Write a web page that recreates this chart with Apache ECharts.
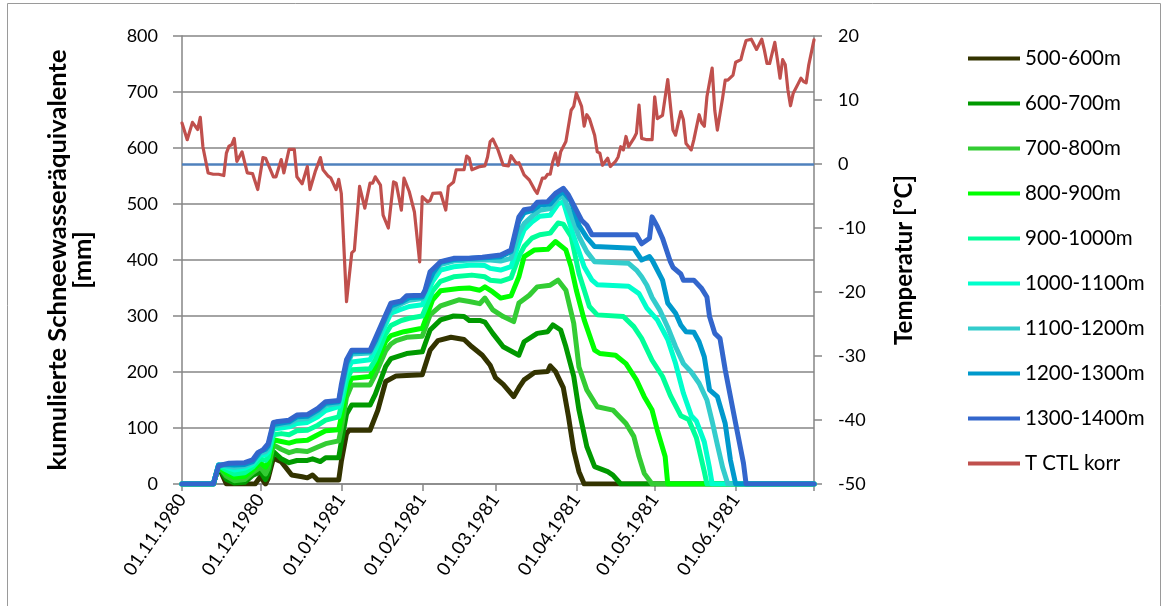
<!DOCTYPE html>
<html><head><meta charset="utf-8">
<script src="https://cdn.jsdelivr.net/npm/echarts@6/dist/echarts.min.js"></script>
<style>html,body{margin:0;padding:0;background:#fff}#c{width:1168px;height:606px}</style>
</head><body><div id="c"></div>
<script>
// ---- categories: daily dates 01.11.1980 .. 01.07.1981 ----
const categories = [];
(function(){
  const pad = n => (n < 10 ? '0' : '') + n;
  for (let i = 0; i < 243; i++) {
    const d = new Date(Date.UTC(1980, 10, 1 + i));
    categories.push(pad(d.getUTCDate()) + '.' + pad(d.getUTCMonth() + 1) + '.' + d.getUTCFullYear());
  }
})();

const seriesNames = ['500-600m','600-700m','700-800m','800-900m','900-1000m','1000-1100m','1100-1200m','1200-1300m','1300-1400m','T CTL korr'];

// [day index since 01.11.1980, value]
const snow500 = [[0,0],[12,0],[14,31],[17,0],[28,0],[30,13],[32,0],[33,10],[35,46],[38,40],[42,16],[46,13],[48,11],[50,16],[52,7],[60,7],[61,40],[63,90],[64,96],[72,96],[75,132],[78,183],[82,193],[92,195],[95,239],[98,256],[103,262],[108,258],[111,245],[115,230],[118,212],[120,190],[123,178],[127,156],[129,172],[131,186],[135,199],[140,201],[141,211],[143,201],[146,172],[148,120],[150,60],[152,22],[154,0],[242,0]];
const snow600 = [[0,0],[12,0],[14,30],[17,8],[20,2],[24,3],[27,15],[30,22],[32,8],[33,18],[35,58],[38,45],[41,38],[44,42],[48,42],[50,45],[53,40],[55,47],[60,47],[61,75],[63,125],[65,141],[72,141],[74,160],[78,210],[80,224],[86,233],[92,236],[95,275],[99,293],[104,300],[108,299],[110,292],[114,292],[116,289],[119,269],[123,245],[129,230],[131,254],[136,269],[140,272],[142,284],[145,275],[147,245],[150,192],[152,132],[155,67],[158,31],[163,22],[165,16],[168,0],[242,0]];
const snow700 = [[0,0],[12,0],[14,32],[17,14],[20,6],[24,8],[27,20],[30,30],[32,18],[33,28],[35,70],[38,62],[41,56],[44,60],[48,58],[52,66],[55,72],[60,77],[61,100],[63,155],[65,177],[72,177],[74,195],[78,238],[80,250],[82,256],[86,262],[92,264],[95,302],[99,318],[106,329],[110,326],[114,322],[116,332],[119,311],[123,299],[127,290],[129,323],[133,337],[136,352],[141,355],[144,364],[147,346],[150,287],[152,209],[155,168],[159,138],[165,132],[170,108],[173,85],[175,49],[177,19],[180,0],[242,0]];
const snow800 = [[0,0],[12,0],[14,32],[17,20],[20,12],[24,14],[27,25],[30,38],[32,30],[33,38],[35,79],[38,76],[41,73],[44,77],[48,78],[52,88],[55,95],[60,97],[61,120],[63,170],[65,189],[72,192],[74,210],[78,255],[80,265],[85,272],[92,278],[96,329],[99,345],[106,349],[110,350],[114,346],[116,352],[119,343],[122,332],[126,336],[129,370],[131,406],[135,418],[140,419],[143,433],[147,418],[149,388],[151,346],[154,293],[158,239],[160,233],[166,230],[170,215],[174,186],[177,156],[180,132],[182,96],[185,49],[186,0],[242,0]];
const snow900 = [[0,0],[12,0],[14,33],[17,25],[20,18],[24,20],[27,30],[30,45],[32,42],[33,48],[35,88],[38,90],[41,88],[44,95],[48,96],[52,105],[55,114],[60,120],[61,140],[63,185],[65,204],[72,206],[74,222],[78,268],[80,283],[84,292],[87,296],[92,300],[96,345],[99,362],[104,370],[111,373],[116,370],[118,364],[122,362],[126,368],[129,406],[131,424],[134,439],[137,445],[141,448],[144,466],[146,464],[149,442],[152,376],[156,317],[159,302],[169,299],[173,281],[176,260],[180,221],[184,192],[187,158],[191,122],[194,115],[197,82],[200,22],[201,0],[242,0]];
const snow1000 = [[0,0],[12,0],[14,34],[17,30],[20,25],[24,28],[27,35],[30,52],[32,52],[33,57],[35,98],[38,100],[41,102],[44,108],[48,110],[52,120],[55,131],[60,138],[61,155],[63,200],[65,218],[72,222],[74,240],[78,285],[80,305],[84,312],[87,317],[92,320],[96,362],[99,382],[104,388],[111,391],[116,390],[118,385],[122,382],[126,388],[129,430],[131,454],[134,468],[137,478],[141,480],[144,500],[146,504],[150,442],[154,388],[157,364],[159,356],[171,353],[175,340],[178,314],[182,293],[186,258],[189,215],[192,162],[195,122],[197,112],[200,75],[202,28],[203,0],[242,0]];
const snow1100 = [[0,0],[12,0],[14,34],[17,32],[20,30],[24,32],[27,38],[30,55],[32,58],[33,63],[35,103],[38,106],[41,108],[44,115],[48,117],[52,128],[55,140],[60,144],[61,165],[63,210],[65,232],[72,234],[74,250],[78,293],[80,312],[84,322],[87,328],[92,331],[96,372],[99,392],[104,398],[111,400],[118,400],[122,398],[126,403],[129,448],[131,465],[134,478],[137,489],[141,492],[144,510],[146,514],[149,480],[152,442],[155,415],[158,397],[171,394],[174,382],[176,370],[178,355],[180,333],[183,310],[186,280],[189,245],[192,215],[195,200],[198,180],[201,150],[203,112],[205,70],[207,30],[209,0],[242,0]];
const snow1200 = [[0,0],[12,0],[14,34],[17,35],[20,34],[24,35],[27,40],[30,58],[32,62],[33,68],[35,106],[38,109],[41,111],[44,120],[48,121],[52,132],[55,144],[60,147],[61,170],[63,215],[65,236],[72,237],[74,255],[78,298],[80,318],[84,325],[87,333],[92,334],[96,376],[99,396],[104,401],[111,403],[116,404],[122,406],[126,415],[129,470],[131,484],[134,488],[137,498],[141,500],[144,516],[146,522],[149,505],[152,462],[155,440],[158,424],[173,421],[176,400],[179,406],[180,400],[184,364],[186,323],[189,305],[191,284],[193,272],[196,271],[198,254],[200,227],[202,168],[205,156],[208,108],[210,43],[212,0],[242,0]];
const snow1300 = [[0,0],[12,0],[14,32],[16,35],[18,37],[24,38],[27,43],[29,56],[31,61],[33,72],[35,110],[36,111],[41,114],[44,123],[48,124],[52,135],[55,147],[60,149],[61,177],[63,222],[65,239],[72,239],[74,260],[78,302],[80,323],[84,327],[86,336],[92,337],[93,345],[95,379],[99,397],[104,403],[110,403],[115,405],[122,409],[126,418],[129,477],[131,490],[134,492],[136,503],[140,504],[143,519],[146,528],[148,516],[153,471],[155,462],[157,445],[174,445],[176,429],[179,439],[180,477],[182,460],[184,439],[187,397],[188,387],[191,375],[192,364],[196,364],[199,349],[201,334],[202,299],[204,269],[206,260],[208,204],[212,108],[215,37],[216,0],[242,0]];
const tempCTL = [[0,6.4],[2,3.8],[4,6.5],[6,5.4],[7,7.3],[8,2.7],[10,-1.4],[12,-1.6],[14,-1.6],[16,-1.8],[17,1.7],[18,2.8],[19,3.0],[20,4.0],[21,0.4],[23,1.9],[25,-1.4],[27,-1.5],[29,-4.0],[31,1.0],[32,0.9],[35,-2.0],[36,-2.0],[38,0.7],[39,-1.4],[41,2.3],[43,2.3],[44,-2.0],[46,-3.1],[48,-0.4],[49,-4.0],[51,-1.2],[53,1.0],[54,-0.9],[56,-1.9],[57,-2.2],[59,-4.0],[60,-2.4],[61,-4.6],[63,-21.5],[65,-13.9],[66,-13.5],[68,-3.5],[70,-6.9],[72,-3.0],[73,-3.0],[74,-2.0],[76,-3.3],[77,-8.0],[79,-10.0],[81,-2.8],[82,-3.0],[84,-7.2],[85,-2.2],[87,-4.3],[89,-7.5],[91,-15.3],[92,-5.1],[94,-5.9],[95,-5.7],[96,-4.6],[99,-4.5],[101,-7.2],[102,-3.5],[104,-2.8],[105,-0.9],[108,-0.9],[109,1.25],[110,0.9],[111,-0.9],[114,-0.4],[116,-0.3],[117,1.1],[118,3.5],[119,3.9],[121,2.2],[123,-0.2],[125,-0.3],[126,1.3],[128,0.1],[129,0.2],[131,-1.7],[133,-2.5],[135,-4.0],[136,-4.6],[138,-2.2],[139,-2.2],[140,-1.6],[141,-1.6],[142,0.4],[143,1.7],[144,-0.2],[145,1.9],[147,3.5],[149,8.4],[150,9.0],[151,11.1],[153,9.0],[154,5.9],[155,7.7],[156,7.1],[158,4.5],[159,1.9],[160,1.7],[161,-0.2],[163,0.9],[164,-0.4],[166,0.4],[167,1.1],[168,2.7],[169,2.2],[170,4.3],[171,2.7],[173,4.0],[174,4.8],[175,9.2],[176,4.0],[178,3.8],[180,3.8],[181,10.5],[182,7.1],[184,7.6],[186,13.2],[188,5.3],[189,4.5],[190,6.4],[191,8.2],[192,6.9],[193,3.2],[195,2.2],[196,3.8],[198,7.7],[199,6.4],[200,5.9],[201,10.5],[203,15.0],[204,8.4],[205,5.3],[207,10.3],[208,13.1],[209,13.1],[211,13.9],[212,15.9],[214,16.3],[215,17.9],[216,19.3],[218,19.5],[220,17.9],[222,19.5],[223,17.8],[224,15.7],[225,15.7],[227,19.0],[228,16.3],[229,13.4],[230,16.3],[231,15.5],[232,11.6],[233,9.1],[234,11.0],[236,12.6],[237,13.4],[238,12.9],[239,12.7],[240,15.5],[242,19.4]];

const snowData = [snow500, snow600, snow700, snow800, snow900, snow1000, snow1100, snow1200, snow1300];
const colors = ['#333300','#009900','#33CC33','#00FF00','#00FF99','#00FFCC','#33CCCC','#0099CC','#3366CC','#C0504D'];

const FONT = 'Lato';
const GRAY = '#868686';

const series = snowData.map((d, i) => ({
  name: seriesNames[i], type: 'line', yAxisIndex: 0, data: d,
  symbol: 'none', showSymbol: false, smooth: false, z: 2 + i,
  lineStyle: { width: 5, color: colors[i], cap: 'round', join: 'round' },
  itemStyle: { color: colors[i] }
}));
series.push({
  name: seriesNames[9], type: 'line', yAxisIndex: 1, data: tempCTL,
  symbol: 'none', showSymbol: false, z: 12,
  lineStyle: { width: 3.2, color: colors[9], cap: 'round', join: 'round' },
  itemStyle: { color: colors[9] },
  markLine: { silent: true, symbol: ['none','none'], label: { show: false },
    lineStyle: { color: '#4F81BD', width: 2.5, type: 'solid' }, data: [{ yAxis: 0 }] }
});

const chart = echarts.init(document.getElementById('c'), null, { renderer: 'canvas' });
chart.setOption({
  animation: false,
  backgroundColor: '#fff',
  textStyle: { fontFamily: FONT },
  grid: { left: 182, right: 354, top: 36, bottom: 122, containLabel: false },
  legend: {
    orient: 'vertical', left: 963, top: 43, itemWidth: 52, itemHeight: 4, itemGap: 24,
    icon: 'rect', data: seriesNames,
    textStyle: { fontSize: 20.5, fontFamily: FONT, color: '#000', lineHeight: 20 }
  },
  xAxis: {
    type: 'category', data: categories, boundaryGap: false,
    axisLine: { lineStyle: { color: GRAY, width: 1.5 } },
    axisTick: { interval: (i, v) => v.startsWith('01.'), length: 7, lineStyle: { color: GRAY, width: 1.5 } },
    axisLabel: { interval: (i, v) => v.startsWith('01.') && i < 242, rotate: 55, fontSize: 18.5, color: '#000', fontFamily: FONT, margin: 12 },
    splitLine: { show: false }
  },
  yAxis: [{
    type: 'value', min: 0, max: 800, interval: 100, position: 'left',
    axisLine: { show: true, lineStyle: { color: GRAY, width: 1.5 } },
    axisTick: { show: true, length: 9, lineStyle: { color: GRAY, width: 1.5 } },
    axisLabel: { fontSize: 18, color: '#000', fontFamily: FONT, margin: 24 },
    splitLine: { show: true, lineStyle: { color: GRAY, width: 1.5 } },
    name: 'kumulierte Schneewasseräquivalente\n[mm]', nameLocation: 'middle', nameRotate: 90, nameGap: 87,
    nameTextStyle: { fontSize: 25.5, fontWeight: 'bold', fontFamily: FONT, color: '#000', lineHeight: 25 }
  }, {
    type: 'value', min: -50, max: 20, interval: 10, position: 'right',
    axisLine: { show: true, lineStyle: { color: GRAY, width: 1.5 } },
    axisTick: { show: true, length: 8, lineStyle: { color: GRAY, width: 1.5 } },
    axisLabel: { fontSize: 18, color: '#000', fontFamily: FONT, margin: 24 },
    splitLine: { show: false },
    name: 'Temperatur [°C]', nameLocation: 'middle', nameRotate: 90, nameGap: 78,
    nameTextStyle: { fontSize: 24, fontWeight: 'bold', fontFamily: FONT, color: '#000' }
  }],
  graphic: [{
    type: 'rect', silent: true, z: -1,
    shape: { x: 7.5, y: 3.5, width: 1153, height: 640 },
    style: { fill: 'none', stroke: '#9a9a9a', lineWidth: 1 }
  }],
  series: series
});
</script></body></html>
